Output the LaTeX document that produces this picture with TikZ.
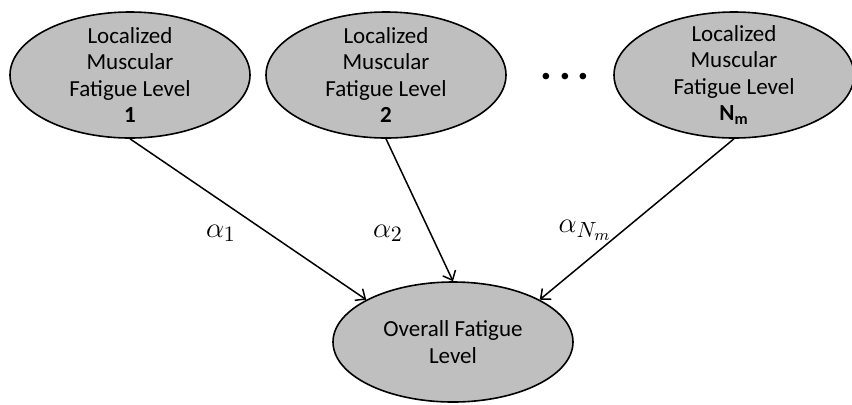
\documentclass[tikz,border=0pt]{standalone}
\usepackage{fontspec}
\setmainfont{Carlito}
\usetikzlibrary{shapes.geometric,arrows.meta}

\begin{document}
\begin{tikzpicture}[x=0.5pt, y=-0.5pt,
    level/.style={ellipse, draw, line width=0.8pt, fill=black!25, minimum width=120pt, minimum height=63pt, inner ysep=-10pt, align=center, font=\fontsize{11.5}{13.25}\selectfont},
    weight/.style={font=\fontsize{15.5}{15.5}\selectfont},
    arrow/.style={-{Straight Barb[length=4pt, width=7pt]}, line width=0.75pt}]

    % Frame
    \useasboundingbox (0,0) rectangle (852,404);

    % Localized muscular fatigue levels
    \node[level] (lm1) at (130,75) {Localized\\Muscular\\Fatigue Level\\\textbf{1}};
    \node[level] (lm2) at (386,75) {Localized\\Muscular\\Fatigue Level\\\textbf{2}};
    \node[level] (lmN) at (734,75) {Localized\\Muscular\\Fatigue Level\\\textbf{N\textsubscript{m}}};

    % Dots between level 2 and level N_m
    \node (dots) at (565,77) {\fontsize{22}{22}\selectfont\textbf{.\hspace{3.2pt}.\hspace{3.2pt}.}};

    % Overall fatigue level
    \node[level, minimum height=60pt] (total) at (453,342) {Overall Fatigue\\Level};

    % Weights
    \node[weight] (a1) at (221,233) {$\alpha_1$};
    \node[weight] (a2) at (388,233) {$\alpha_2$};
    \node[weight] (aN) at (585,230) {$\alpha_{N_m}$};

    % Connections
    \draw[arrow] (lm1.south) -- (total.154);
    \draw[arrow] (lm2.south) -- (total.north);
    \draw[arrow] (lmN.south) -- (total.26);

\end{tikzpicture}
\end{document}
